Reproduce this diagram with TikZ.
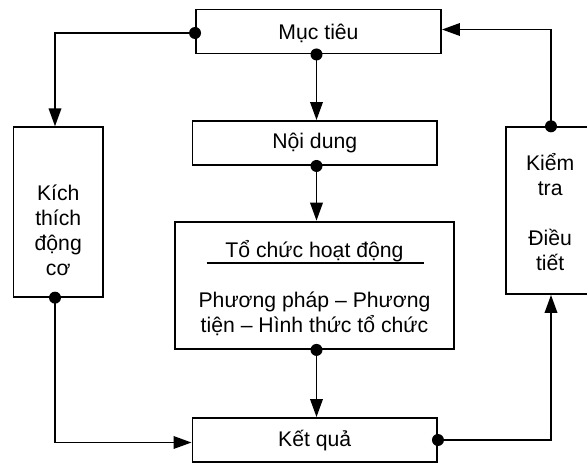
\documentclass[tikz,border=0pt]{standalone}
\usepackage{fontspec}
\setmainfont{Liberation Sans}
\usetikzlibrary{arrows.meta,calc}
\tikzset{
  boxnode/.style={draw,line width=1.9pt,rectangle,inner sep=0pt},
  lbl/.style={inner sep=0pt,align=center,font=\fontsize{21.2}{25}\selectfont},
  conn/.style={line width=1.9pt,-{Triangle[length=18pt,width=12.5pt]}},
  dotr/.style={fill=black}
}
\begin{document}
\begin{tikzpicture}[x=1pt,y=-1pt]
\useasboundingbox (0,0) rectangle (587,464);
\begin{scope}
\clip (0,0) rectangle (587,464);
% boxes
\node[boxnode,minimum width=245pt,minimum height=44pt] (MT) at (318.5,31.5) {};
\node[lbl] (MTt) at (318.5,33) {Mục tiêu};
\node[boxnode,minimum width=244.5pt,minimum height=44pt] (ND) at (314.75,143) {};
\node[lbl] (NDt) at (314.75,143) {Nội dung};
\node[boxnode,minimum width=279pt,minimum height=127.3pt] (TC) at (314.5,285.3) {};
\node[lbl] (TCt) at (314.5,251) {Tổ chức hoạt động};
\node[lbl] (TCb) at (314.5,313.5) {Phương pháp – Phương\\tiện – Hình thức tổ chức};
\node[boxnode,minimum width=244.5pt,minimum height=44pt] (KQ) at (314.75,440) {};
\node[lbl] (KQt) at (314.75,441) {Kết quả};
\node[boxnode,minimum width=89.5pt,minimum height=169.4pt] (KT) at (58.25,212) {};
\node[lbl] (KTt) at (58.25,230.5) {Kích\\thích\\động\\cơ};
\node[boxnode,minimum width=87.6pt,minimum height=166.7pt] (KR) at (550.2,210.6) {};
\node[lbl] (KRt) at (550.2,212) {Kiểm\\tra\\[25pt]Điều\\tiết};
\coordinate (sp) at (316.5,0);
\coordinate (lx) at (55,0);
\coordinate (rx) at (551,0);
% underline
\draw[line width=1.9pt] (206.7,262.7) -- (424,262.7);
% connectors
\draw[conn] (MT.south -| sp) -- (ND.north -| sp);
\draw[conn] (ND.south -| sp) -- (TC.north -| sp);
\draw[conn] (TC.south -| sp) -- (KQ.north -| sp);
\coordinate (mtl) at ($(MT.west)+(0,1.5)$);
\draw[conn] (mtl) -- (mtl -| lx) -- (KT.north -| lx);
\coordinate (kql) at ($(KQ.west)+(0,2.5)$);
\draw[conn] (KT.south -| lx) -- (kql -| lx) -- (kql);
\draw[conn] (KQ.east) -- (KQ.east -| rx) -- (KR.south -| rx);
\coordinate (mtr) at ($(MT.east)+(0,-2)$);
\draw[conn] (KR.north -| rx) -- (mtr -| rx) -- (mtr);
% dots
\fill[dotr] (MT.south -| sp) circle (6pt);
\fill[dotr] (ND.south -| sp) circle (6pt);
\fill[dotr] (TC.south -| sp) circle (6pt);
\fill[dotr] (mtl) circle (6pt);
\fill[dotr] (KT.south -| lx) circle (6pt);
\fill[dotr] (KQ.east) circle (6pt);
\fill[dotr] (KR.north -| rx) circle (6pt);
\end{scope}
\end{tikzpicture}
\end{document}
